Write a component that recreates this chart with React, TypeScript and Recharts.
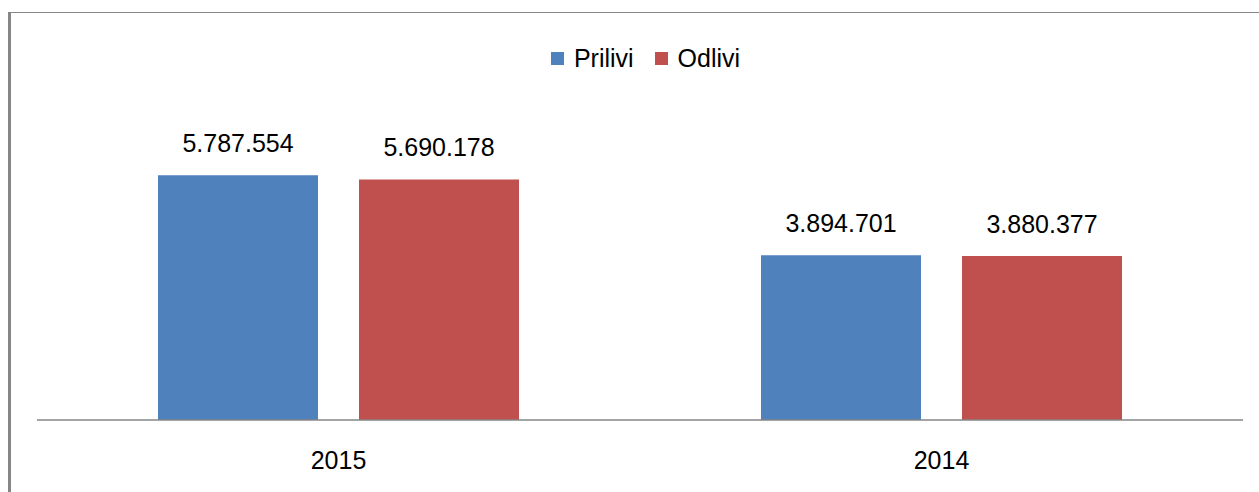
import { BarChart, Bar, XAxis, YAxis, LabelList } from 'recharts'

const years = ['2015', '2014']
const prilivi = [5787554, 3894701]
const odlivi = [5690178, 3880377]

const seriesList = [
  { key: 'prilivi', name: 'Prilivi', color: '#4F81BD' },
  { key: 'odlivi', name: 'Odlivi', color: '#C0504D' },
]

const data = years.map((year, i) => ({
  year,
  prilivi: prilivi[i],
  odlivi: odlivi[i],
}))

const fontFamily = '"Liberation Sans", Arial, sans-serif'

const formatValue = (v: number) => String(v).replace(/\B(?=(\d{3})+(?!\d))/g, '.')

// legend sits above the plot, drawn outside recharts so it doesn't shrink the plot area
function ChartLegend() {
  return (
    <div
      style={{
        position: 'absolute',
        top: 44,
        left: 0,
        width: 1259,
        paddingLeft: 32,
        boxSizing: 'border-box',
        display: 'flex',
        justifyContent: 'center',
        alignItems: 'center',
        fontFamily,
        fontSize: 25,
        color: '#000',
      }}
    >
      {seriesList.map((s, i) => (
        <div key={s.key} style={{ display: 'flex', alignItems: 'center', marginLeft: i > 0 ? 21 : 0 }}>
          <span style={{ display: 'inline-block', width: 13, height: 13, background: s.color, marginRight: 10 }} />
          <span>{s.name}</span>
        </div>
      ))}
    </div>
  )
}

export default function App() {
  return (
    <div style={{ position: 'absolute', left: 0, top: 0, width: 1259, height: 492, background: '#fff', overflow: 'hidden' }}>
      <div
        style={{
          position: 'absolute',
          left: 8,
          top: 12,
          width: 1300,
          height: 500,
          borderLeft: '3px solid #868686',
          borderTop: '1px solid #868686',
        }}
      />
      <div style={{ position: 'absolute', left: 0, top: 0 }}>
        <BarChart
          width={1259}
          height={492}
          data={data}
          margin={{ top: 124, right: 16, bottom: 0, left: 37 }}
          barGap={41}
          barSize={160}
        >
          <XAxis
            dataKey="year"
            height={72}
            tickLine={false}
            tickSize={0}
            tickMargin={31}
            axisLine={{ stroke: '#868686', strokeWidth: 1.5 }}
            tick={{ fill: '#000', fontSize: 25, fontFamily }}
          />
          <YAxis hide domain={[0, 7000000]} />
          {seriesList.map((s) => (
            <Bar key={s.key} dataKey={s.key} name={s.name} fill={s.color} isAnimationActive={false}>
              <LabelList
                dataKey={s.key}
                position="top"
                offset={23}
                formatter={(v: any) => formatValue(Number(v))}
                style={{ fill: '#000', fontSize: 25, fontFamily }}
              />
            </Bar>
          ))}
        </BarChart>
      </div>
      <ChartLegend />
    </div>
  )
}
